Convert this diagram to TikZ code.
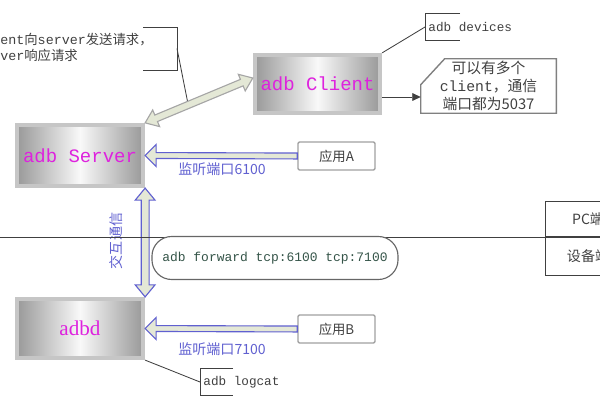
\documentclass[tikz,border=0pt]{standalone}
\usepackage{fontspec}
\setmainfont{Liberation Serif}
\setmonofont{Liberation Mono}
\newfontfamily\cjk{Noto Sans CJK SC}
\usetikzlibrary{calc,arrows.meta}

\definecolor{adbpink}{RGB}{222,34,222}
\definecolor{portblue}{RGB}{96,96,208}
\definecolor{portfill}{RGB}{228,232,214}
\definecolor{fwdgreen}{RGB}{52,84,72}
\definecolor{notegray}{RGB}{64,64,64}

% direction and length from #1 to #2
\newcommand\getdir[2]{%
  \path let \p1=(#1), \p2=(#2) in
    \pgfextra{\pgfmathsetmacro\dirang{atan2((\y2)-(\y1),(\x2)-(\x1))}%
      \pgfmathsetmacro\dirlen{veclen((\x2)-(\x1),(\y2)-(\y1))}%
      \global\let\dirang\dirang\global\let\dirlen\dirlen};}
% block arrow: style, from, to, shaft, head, head length
\newcommand\fatarrow[6]{%
  \getdir{#2}{#3}
  \begin{scope}[shift={(#2)}, rotate=\dirang]
    \draw[#1] (0pt,-#4) -- ({\dirlen pt-#6},-#4) -- ({\dirlen pt-#6},-#5)
      -- (\dirlen pt,0pt) -- ({\dirlen pt-#6},#5) -- ({\dirlen pt-#6},#4)
      -- (0pt,#4) -- cycle;
  \end{scope}}
\newcommand\fatdarrow[6]{%
  \getdir{#2}{#3}
  \begin{scope}[shift={(#2)}, rotate=\dirang]
    \draw[#1] (0pt,0pt) -- (#6,#5) -- (#6,#4) -- ({\dirlen pt-#6},#4)
      -- ({\dirlen pt-#6},#5) -- (\dirlen pt,0pt) -- ({\dirlen pt-#6},-#5)
      -- ({\dirlen pt-#6},-#4) -- (#6,-#4) -- (#6,-#5) -- cycle;
  \end{scope}}

\tikzset{
  bigbox/.style={draw=gray!45, line width=3pt, left color=gray!80,
    right color=gray!80, middle color=gray!5, minimum width=3.15cm,
    minimum height=1.525cm, text=adbpink,
    font=\ttfamily\fontsize{13.5}{16}\selectfont},
  appbox/.style={draw=gray!75, line width=1pt, rounded corners=1pt,
    minimum width=1.925cm, minimum height=0.7cm, text=notegray,
    font=\cjk\fontsize{9.5}{11}\selectfont},
  portlbl/.style={text=portblue, font=\cjk\fontsize{10}{12}\selectfont},
  tag/.style={anchor=west, minimum height=0.65cm, inner xsep=0.08cm,
    text=notegray, font=\ttfamily\fontsize{9}{11}\selectfont},
  sidebox/.style={draw=notegray, line width=0.8pt, minimum width=2.125cm,
    text=notegray, font=\cjk\fontsize{10}{12}\selectfont},
  pipe/.style={draw=portblue, fill=portfill, line width=0.8pt},
  link/.style={draw=gray!70, fill=portfill, line width=0.8pt},
  leader/.style={draw=notegray, line width=0.6pt},
}

\begin{document}
\begin{tikzpicture}[x=0.025cm, y=-0.025cm]
  \useasboundingbox (0,0) rectangle (600,400);
  \clip (0,0) rectangle (600,400);

  % adb parts
  \node[bigbox, minimum width=3.125cm, minimum height=1.45cm] (cli) at (317.5,84) {adb Client};
  \node[bigbox] (srv) at (80,155.5) {adb Server};
  \node[bigbox, minimum height=1.475cm, font=\rmfamily\fontsize{15}{18}\selectfont] (adbd) at (80,328.5) {adbd};

  \node[appbox] (appA) at (336.5,156) {应用A};
  \node[appbox] (appB) at (336.5,329) {应用B};

  % client / server request note
  \node[anchor=north west, align=left, inner sep=0, text=notegray,
    font=\cjk\fontsize{9.5}{11.4}\selectfont] (req) at (-24,33)
    {\texttt{client}向\texttt{server}发送请求，\\\texttt{server}响应请求};
  \coordinate (brk) at (177,48.5);
  \coordinate (cliin) at ([yshift=0.15cm]cli.west);
  \draw[leader] (brk) ++(-34,-21.5) -- ++(34,0) -- ++(0,43) -- ++(-34,0);
  \draw[leader] (brk) -- ($(srv.north east)!.4!(cliin)$);

  \fatdarrow{link}{srv.north east}{cliin}{2.5pt}{6.4pt}{8.5pt}
  \fatarrow{pipe}{appA.west}{srv.east}{2.1pt}{7.8pt}{7.8pt}
  \fatarrow{pipe}{appB.west}{adbd.east}{2.1pt}{7.8pt}{7.8pt}
  \fatdarrow{pipe}{srv.south east}{adbd.north east}{2.8pt}{7pt}{8.5pt}

  \node[portlbl] (p6100) at (222,169) {监听端口6100};
  \node[portlbl] (p7100) at (222,349) {监听端口7100};
  \node[portlbl, rotate=90] (xchg) at (116,241) {交互通信};

  % pc / device split
  \coordinate (lft) at (0,237);
  \node[sidebox, minimum height=0.875cm, anchor=south west] (pc) at (545,237) {PC端};
  \node[sidebox, minimum height=0.95cm, anchor=north west] (dev) at (545,237) {设备端};
  \draw[leader] (lft) -- (pc.south east);

  \node[draw=gray!80!black, fill=white, line width=0.8pt, rounded corners=14pt,
    minimum width=6.15cm, minimum height=1.075cm, text=fwdgreen,
    font=\ttfamily\fontsize{9.2}{11}\selectfont] (fwd) at (275,258)
    {adb forward tcp:6100 tcp:7100};

  % notes on client side
  \node[tag] (devs) at (425,27) {adb devices};
  \draw[leader] ([xshift=0.875cm]devs.north west) -- (devs.north west)
    -- (devs.south west) -- ([xshift=0.875cm]devs.south west);
  \draw[leader] (cli.north east) -- (devs.west);

  \node[align=center, inner sep=0, minimum width=3.375cm, minimum height=1.35cm,
    text=notegray, font=\cjk\fontsize{10.5}{12.8}\selectfont] (note) at (488.5,86)
    {可以有多个\\\texttt{client}，通信\\端口都为5037};
  \draw[draw=gray, line width=1pt] ([yshift=-0.65cm]note.north west)
    -- ([xshift=0.6cm]note.north west) -- (note.north east)
    -- (note.south east) -- (note.south west) -- cycle;
  \coordinate (cliout) at ([yshift=-0.325cm]cli.east);
  \draw[leader, -{Triangle[length=6pt,width=5.5pt]}] (cliout) -- (cliout -| note.west);

  % note on adbd
  \node[tag] (logc) at (200,382) {adb logcat};
  \draw[leader] ([xshift=0.825cm]logc.north west) -- (logc.north west)
    -- (logc.south west) -- ([xshift=0.825cm]logc.south west);
  \draw[leader] (adbd.south east) -- (logc.west);
\end{tikzpicture}
\end{document}
